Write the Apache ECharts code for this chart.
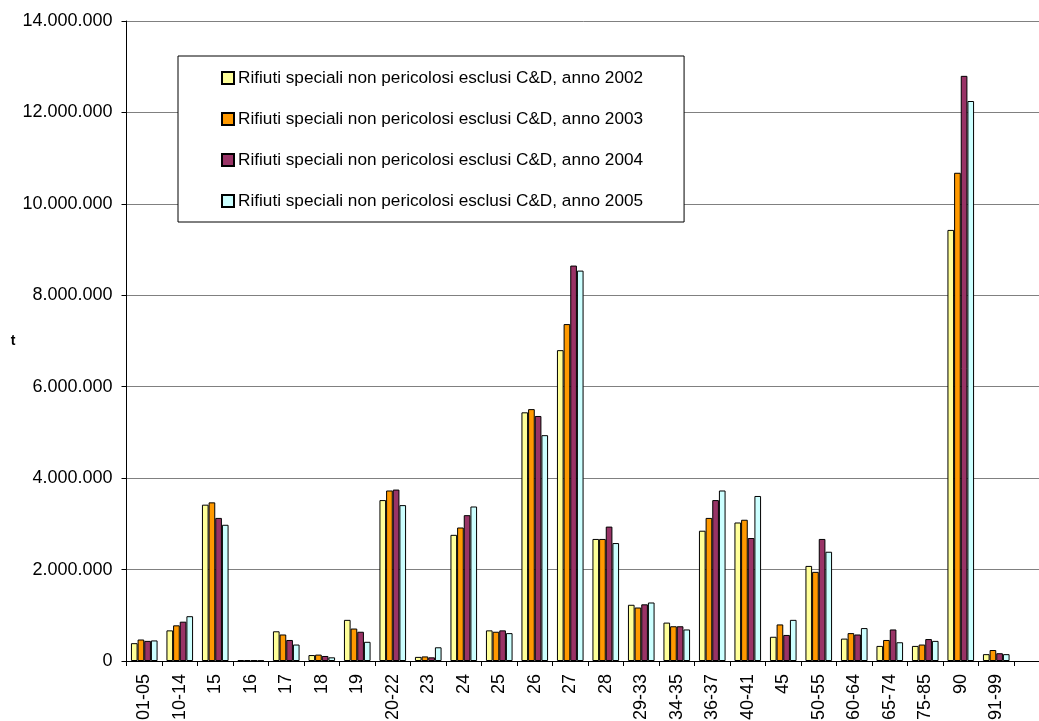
<!DOCTYPE html>
<html>
<head>
<meta charset="utf-8">
<title>Rifiuti speciali non pericolosi esclusi C&amp;D</title>
<script src="https://cdn.jsdelivr.net/npm/echarts@6/dist/echarts.min.js"></script>
<style>
  html, body { margin: 0; padding: 0; background: #ffffff; }
  #chart { width: 1039px; height: 721px; }
</style>
</head>
<body>
<div id="chart"></div>
<script>
// Economic activity groups (ATECO divisions); the last slot is left empty
const categories = ['01-05', '10-14', '15', '16', '17', '18', '19', '20-22', '23', '24', '25', '26', '27', '28',
  '29-33', '34-35', '36-37', '40-41', '45', '50-55', '60-64', '65-74', '75-85', '90', '91-99', ''];

const years = ['2002', '2003', '2004', '2005'];
const seriesPrefix = 'Rifiuti speciali non pericolosi esclusi C&D, anno ';
const colors = ['#FFFF99', '#FF9900', '#993366', '#CCFFFF'];

// Tonnes per activity group
const t2002 = [390000, 670000, 3420000, 20000, 650000, 130000, 900000, 3520000, 90000, 2760000, 670000, 5440000,
  6800000, 2670000, 1230000, 840000, 2850000, 3030000, 530000, 2080000, 490000, 330000, 330000, 9430000, 150000, null];
const t2003 = [470000, 780000, 3470000, 20000, 580000, 140000, 710000, 3730000, 100000, 2920000, 640000, 5510000,
  7370000, 2670000, 1170000, 760000, 3130000, 3090000, 800000, 1950000, 610000, 460000, 360000, 10680000, 240000, null];
const t2004 = [440000, 860000, 3130000, 15000, 460000, 110000, 640000, 3750000, 80000, 3190000, 670000, 5360000,
  8650000, 2940000, 1240000, 760000, 3520000, 2690000, 570000, 2670000, 580000, 690000, 480000, 12800000, 170000, null];
const t2005 = [450000, 980000, 2980000, 10000, 360000, 80000, 420000, 3410000, 300000, 3380000, 610000, 4940000,
  8540000, 2580000, 1280000, 690000, 3730000, 3610000, 900000, 2390000, 720000, 410000, 440000, 12250000, 150000, null];

const yMin = 0;
const yMax = 14000000;
const yStep = 2000000;

const values = [t2002, t2003, t2004, t2005];
const FONT = '"Liberation Sans", Arial, sans-serif';

function thousands(v) {
  return String(v).replace(/\B(?=(\d{3})+(?!\d))/g, '.');
}

const chart = echarts.init(document.getElementById('chart'), null, { renderer: 'canvas' });

chart.setOption({
  backgroundColor: '#ffffff',
  animation: false,
  textStyle: { fontFamily: FONT, color: '#000' },
  grid: {
    left: 126.5,
    top: 21,
    width: 923,
    height: 640,
    containLabel: false,
    outerBoundsMode: 'none'
  },
  legend: {
    orient: 'vertical',
    left: 178,
    top: 56,
    padding: [12, 41, 11, 43],
    itemGap: 21,
    itemWidth: 12,
    itemHeight: 12,
    icon: 'rect',
    backgroundColor: '#ffffff',
    borderColor: '#000000',
    borderWidth: 1,
    textStyle: { fontFamily: FONT, fontSize: 17.2, lineHeight: 20, color: '#000', padding: [0, 0, 0, -1] },
    data: years.map(y => seriesPrefix + y)
  },
  xAxis: {
    type: 'category',
    data: categories,
    boundaryGap: true,
    axisLine: { lineStyle: { color: '#000', width: 1 } },
    axisTick: { show: true, length: 5, lineStyle: { color: '#000' }, interval: 0 },
    axisLabel: {
      interval: 0,
      rotate: 90,
      margin: 13,
      fontFamily: FONT,
      fontSize: 18,
      color: '#000'
    },
    splitLine: { show: false }
  },
  yAxis: {
    type: 'value',
    min: yMin,
    max: yMax,
    interval: yStep,
    name: 't',
    nameLocation: 'middle',
    nameRotate: 0,
    nameGap: 111,
    nameTextStyle: { fontFamily: FONT, fontSize: 14, fontWeight: 'bold', color: '#000' },
    axisLine: { show: true, lineStyle: { color: '#000', width: 1 } },
    axisTick: { show: true, length: 5, lineStyle: { color: '#000' } },
    axisLabel: {
      margin: 14,
      fontFamily: FONT,
      fontSize: 18,
      color: '#000',
      formatter: thousands
    },
    splitLine: { show: true, lineStyle: { color: '#808080', width: 1 } }
  },
  series: years.map((y, i) => ({
    name: seriesPrefix + y,
    type: 'bar',
    data: values[i],
    barGap: '0%',
    barCategoryGap: '25%',
    itemStyle: { color: colors[i], borderColor: '#000', borderWidth: 1 }
  }))
});
</script>
</body>
</html>
